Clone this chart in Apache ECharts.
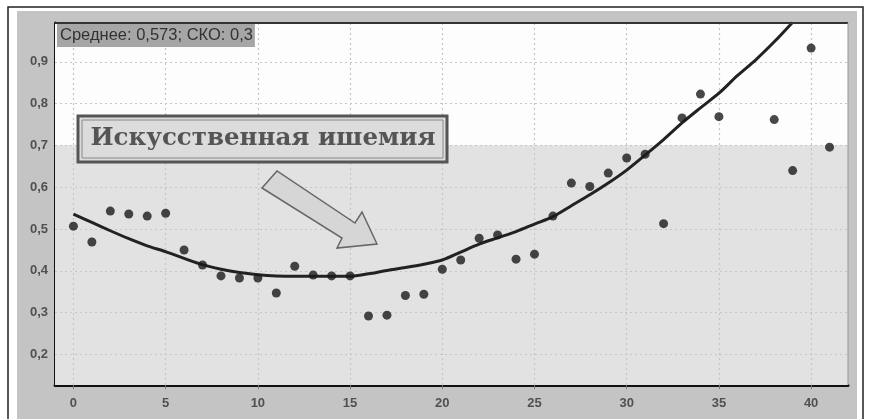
<!DOCTYPE html>
<html><head><meta charset="utf-8">
<script src="https://cdn.jsdelivr.net/npm/echarts@6/dist/echarts.min.js"></script>
<style>html,body{margin:0;padding:0;background:#fff}#c{width:872px;height:419px}</style>
</head><body><div id="c"></div>
<script>
// ---- data ----
const pointX = [0,1,2,3,4,5,6,7,8,9,10,11,12,13,14,15,16,17,18,19,20,21,22,23,24,25,26,27,28,29,30,31,32,33,34,35,38,39,40,41];
const pointY = [0.507,0.469,0.543,0.536,0.531,0.538,0.450,0.414,0.388,0.383,0.383,0.347,0.411,0.390,0.388,0.388,0.292,0.294,0.341,0.344,0.404,0.426,0.478,0.486,0.428,0.440,0.531,0.610,0.602,0.634,0.670,0.679,0.513,0.766,0.823,0.769,0.762,0.640,0.933,0.696];
const trendX = [0,1,2,3,4,5,6,7,8,9,10,11,12,13,14,15,16,17,18,19,20,21,22,23,24,25,26,27,28,29,30,31,32,33,34,35,36,37,38,39];
const trendY = [0.536,0.516,0.496,0.477,0.460,0.446,0.430,0.415,0.404,0.396,0.391,0.388,0.387,0.387,0.387,0.387,0.393,0.401,0.408,0.416,0.426,0.445,0.464,0.479,0.494,0.512,0.530,0.556,0.582,0.610,0.641,0.677,0.714,0.754,0.790,0.825,0.867,0.905,0.948,0.995];
const xTicks = [0,5,10,15,20,25,30,35,40];
const yTicks = [0.2,0.3,0.4,0.5,0.6,0.7,0.8,0.9];
const threshold = 0.7;
const headerText = 'Среднее: 0,573; СКО: 0,3';
const noteText = 'Искусственная ишемия';

const yMin = 0.127, yMax = 0.993;
const gridStyle = {color:'#c6c6c6', type:[2,3], width:1.2};
const chart = echarts.init(document.getElementById('c'), null, {renderer:'canvas'});
chart.setOption({
  backgroundColor:'#ffffff',
  animation:false,
  grid:{left:55, top:23, right:24, bottom:34, show:false},
  xAxis:{type:'value', min:-1, max:42,
    axisLine:{show:true, onZero:false, lineStyle:{color:'#111', width:3}},
    axisTick:{show:true, customValues:xTicks, length:4, lineStyle:{color:'#777'}},
    axisLabel:{customValues:xTicks, color:'#505050', fontSize:13, fontWeight:'bold', fontFamily:'Liberation Sans', margin:12},
    splitLine:{show:false}
  },
  yAxis:{type:'value', min:yMin, max:yMax,
    axisLine:{show:true, onZero:false, lineStyle:{color:'#111', width:3}},
    axisTick:{show:false, customValues:yTicks},
    axisLabel:{customValues:yTicks, color:'#505050', fontSize:13, fontWeight:'bold', fontFamily:'Liberation Sans', margin:7,
      formatter:v=>v.toFixed(1).replace('.',',')},
    splitLine:{show:false}
  },
  graphic:[
    {type:'rect', z:-100, shape:{x:17,y:11,width:840,height:410}, style:{fill:'#c4c4c4'}},
    {type:'rect', z:-100, shape:{x:8,y:7,width:855,height:420}, style:{fill:'none', stroke:'#222', lineWidth:1.5}},
    {type:'line', z:50, shape:{x1:55,y1:23,x2:848,y2:23}, style:{stroke:'#333', lineWidth:2}},
    {type:'line', z:50, shape:{x1:848,y1:23,x2:848,y2:385}, style:{stroke:'#999', lineWidth:1}},
    {type:'text', z:60, x:57, y:24, style:{text:headerText, fill:'#333', font:'16.5px "Liberation Sans"',
      backgroundColor:'#a6a6a6', padding:[3,2,3,3]}},
    {type:'rect', z:60, shape:{x:78,y:116,width:369,height:46}, style:{fill:'#dcdcdc', stroke:'#555', lineWidth:3}},
    {type:'rect', z:61, shape:{x:82,y:120,width:361,height:38}, style:{fill:'none', stroke:'#888', lineWidth:1}},
    {type:'text', z:62, x:263, y:139, style:{text:noteText, fill:'#555', font:'bold 24.5px "DejaVu Serif"', align:'center', verticalAlign:'middle'}},
    {type:'polygon', z:60, shape:{points:[[262,188],[277,171],[355,223],[362,212],[377,244],[337,248],[342,238]]},
      style:{fill:'#d6d6d6', stroke:'#666', lineWidth:1.5}}
  ],
  series:[
    {type:'line', z:-2, silent:true, data:[],
      markArea:{silent:true, data:[
        [{yAxis:yMin, itemStyle:{color:'#e2e2e2'}},{yAxis:threshold}],
        [{yAxis:threshold, itemStyle:{color:'#fdfdfd'}},{yAxis:yMax}]
      ]}},
    {type:'line', z:-1, silent:true, data:[],
      markLine:{silent:true, symbol:'none', label:{show:false}, lineStyle:gridStyle,
        data: yTicks.map(v=>({yAxis:v})).concat(xTicks.map(v=>({xAxis:v})))}},
    {type:'line', z:10, data:trendX.map((x,i)=>[x,trendY[i]]), showSymbol:false, smooth:0.3, clip:true,
      lineStyle:{color:'#222', width:3}},
    {type:'scatter', z:11, data:pointX.map((x,i)=>[x,pointY[i]]), symbolSize:9, itemStyle:{color:'#1a1a1a'}}
  ]
});
</script></body></html>
